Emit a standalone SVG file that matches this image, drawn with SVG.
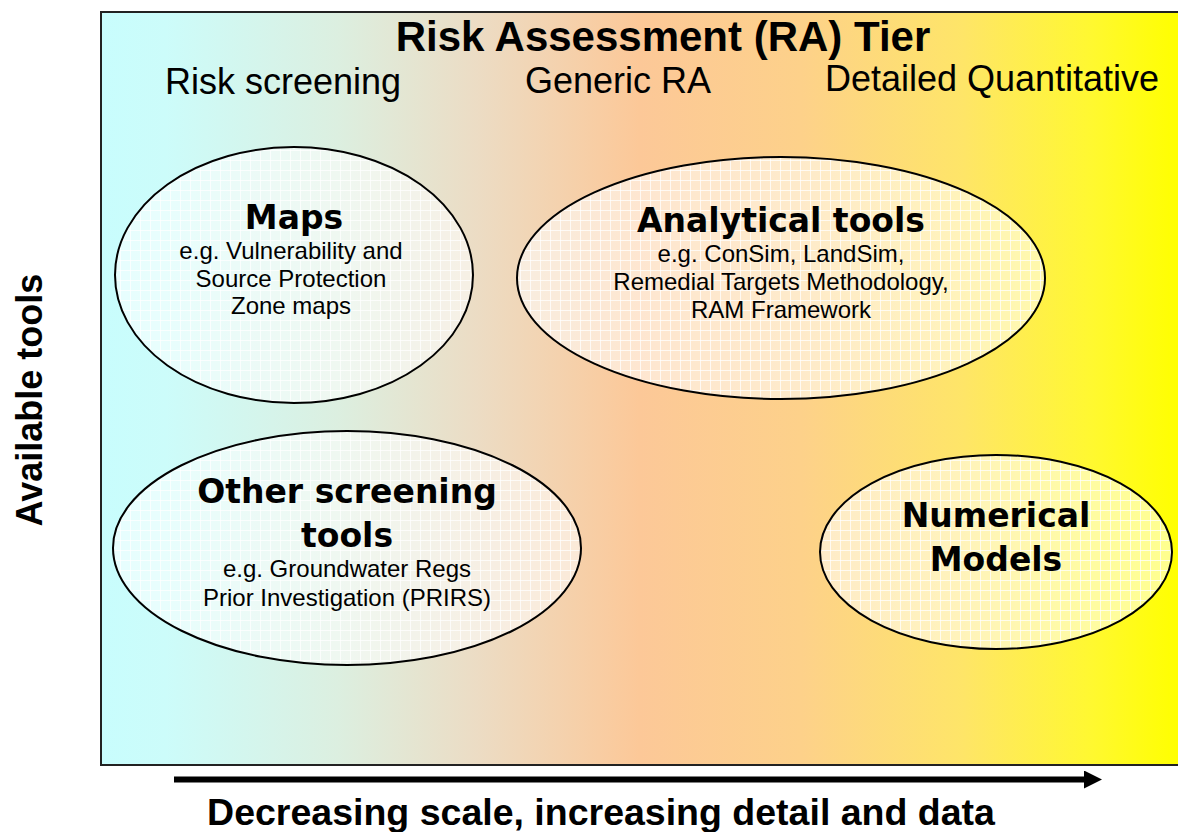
<svg xmlns="http://www.w3.org/2000/svg" width="1178" height="832" viewBox="0 0 1178 832">
<defs>
<linearGradient id="bg" gradientUnits="userSpaceOnUse" x1="101" y1="0" x2="1178" y2="0">
<stop offset="0" stop-color="#c8fdfd"/>
<stop offset="0.06" stop-color="#ccfcfa"/>
<stop offset="0.22" stop-color="#dcefe0"/>
<stop offset="0.35" stop-color="#ecdcc4"/>
<stop offset="0.5" stop-color="#fcc898"/>
<stop offset="0.65" stop-color="#fdd18a"/>
<stop offset="0.8" stop-color="#fee568"/>
<stop offset="0.92" stop-color="#fff830"/>
<stop offset="1" stop-color="#ffff00"/>
</linearGradient>
<pattern id="grid" patternUnits="userSpaceOnUse" width="10" height="10">
<rect width="10" height="10" fill="#ffffff" fill-opacity="0.55"/>
<path d="M0 0.5H10M0.5 0V10" stroke="#ffffff" stroke-opacity="0.75" stroke-width="1" fill="none"/>
</pattern>
<marker id="head" markerUnits="userSpaceOnUse" markerWidth="20" markerHeight="20" refX="2" refY="9" orient="auto">
<path d="M0 0L18 9L0 18Z" fill="#000"/>
</marker>
<style>
.blob{fill:url(#grid);stroke:#000;stroke-width:2}
.head{font-family:"DejaVu Sans",Verdana,sans-serif;font-weight:bold;font-size:33px;fill:#000;text-anchor:middle}
.sub{font-family:"Liberation Sans",Arial,sans-serif;font-size:24px;fill:#000;text-anchor:middle}
.tier{font-family:"Liberation Sans",Arial,sans-serif;font-size:36px;fill:#000;text-anchor:middle}
.bold{font-family:"Liberation Sans",Arial,sans-serif;font-weight:bold;fill:#000;text-anchor:middle}
</style>
</defs>
<rect x="0" y="0" width="1178" height="832" fill="#ffffff"/>
<g id="panel">
<rect x="101" y="12" width="1090" height="753" fill="url(#bg)" stroke="#222" stroke-width="2"/>
<text class="bold" x="663" y="51" font-size="42">Risk Assessment (RA) Tier</text>
<text class="tier" x="283" y="94">Risk screening</text>
<text class="tier" x="618" y="93">Generic RA</text>
<text class="tier" x="992" y="91">Detailed Quantitative</text>
</g>
<g id="node-maps">
<ellipse class="blob" cx="294" cy="275" rx="179" ry="128"/>
<text class="head" x="294" y="229">Maps</text>
<text class="sub" x="291" y="259">e.g. Vulnerability and</text>
<text class="sub" x="291" y="287">Source Protection</text>
<text class="sub" x="291" y="314">Zone maps</text>
</g>
<g id="node-analytical">
<ellipse class="blob" cx="781" cy="278" rx="264" ry="121"/>
<text class="head" x="781" y="232">Analytical tools</text>
<text class="sub" x="781" y="262">e.g. ConSim, LandSim,</text>
<text class="sub" x="781" y="290">Remedial Targets Methodology,</text>
<text class="sub" x="781" y="318">RAM Framework</text>
</g>
<g id="node-other">
<ellipse class="blob" cx="347" cy="548" rx="234" ry="117"/>
<text class="head" x="347" y="503">Other screening</text>
<text class="head" x="347" y="547">tools</text>
<text class="sub" x="347" y="577">e.g. Groundwater Regs</text>
<text class="sub" x="347" y="606">Prior Investigation (PRIRS)</text>
</g>
<g id="node-numerical">
<ellipse class="blob" cx="996" cy="552" rx="176" ry="97"/>
<text class="head" x="996" y="527">Numerical</text>
<text class="head" x="996" y="571">Models</text>
</g>
<g id="connectors">
<line x1="174" y1="779.5" x2="1086" y2="779.5" stroke="#000" stroke-width="6" marker-end="url(#head)"/>
</g>
<g id="axis-labels">
<text class="bold" x="601" y="825" font-size="37.5">Decreasing scale, increasing detail and data</text>
<text class="bold" font-size="36" transform="translate(42 400) rotate(-90)" x="0" y="0">Available tools</text>
</g>
</svg>
